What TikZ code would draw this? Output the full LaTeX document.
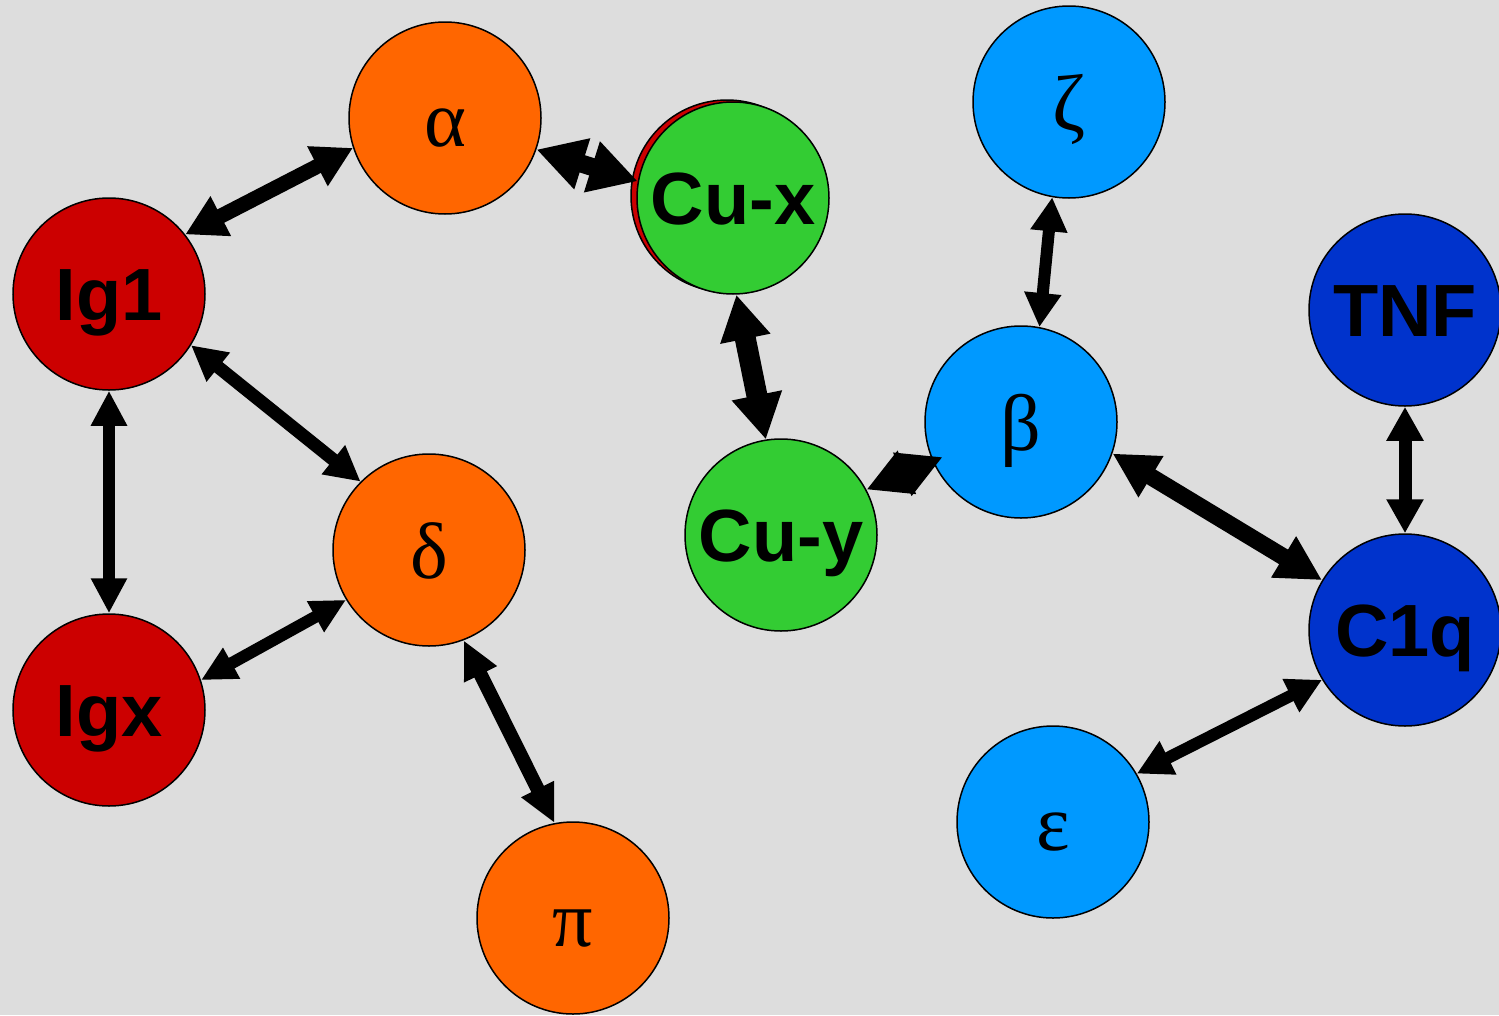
\documentclass[tikz,border=0pt]{standalone}
\usepackage{fontspec}
\setmainfont{Liberation Sans}
\newfontfamily\greekfont{Liberation Serif}
\usetikzlibrary{arrows.meta}

\definecolor{bgc}{HTML}{DDDDDD}
\definecolor{orangec}{HTML}{FF6600}
\definecolor{redc}{HTML}{CC0000}
\definecolor{greenc}{HTML}{33CC33}
\definecolor{lightbluec}{HTML}{0099FF}
\definecolor{darkbluec}{HTML}{0033CC}

\tikzset{
  ball/.style={circle, draw=black, line width=1.5pt, minimum size=192pt, inner sep=0pt, fill=#1},
  wordlbl/.style={font=\fontsize{74}{74}\selectfont\bfseries, text height=53pt, text depth=0pt},
  greeklbl/.style={font=\fontsize{80}{80}\selectfont\greekfont, text height=57pt, text depth=0pt},
  dbl/.style n args={3}{line width=#1, draw=black,
    arrows={Triangle[length=#2,width=#3]-Triangle[length=#2,width=#3]}},
}

\begin{document}
\begin{tikzpicture}[x=1pt, y=-1pt]
  % canvas
  \fill[bgc] (0,0) rectangle (1499,1015);
  \useasboundingbox (0,0) rectangle (1499,1015);
  \clip (0,0) rectangle (1499,1015);

  % red ring behind Cu-x
  \node[ball=redc] (cuxback) at (727,196) {};

  % nodes
  \node[ball=redc, wordlbl] (ig1) at (109,294) {Ig1};
  \node[ball=redc, wordlbl] (igx) at (109,710) {Igx};
  \node[ball=orangec, greeklbl] (alpha) at (445,118) {α};
  \node[ball=orangec, greeklbl] (delta) at (429,550) {δ};
  \node[ball=orangec, greeklbl] (pi) at (573,918) {π};
  \node[ball=greenc, wordlbl] (cux) at (733,198) {Cu-x};
  \node[ball=greenc, wordlbl] (cuy) at (781,535) {Cu-y};
  \node[ball=lightbluec, greeklbl] (zeta) at (1069,102) {ζ};
  \node[ball=lightbluec, greeklbl] (beta) at (1021,422) {β};
  \node[ball=lightbluec, greeklbl] (eps) at (1053,822) {ε};
  \node[ball=darkbluec, wordlbl] (tnf) at (1405,310) {TNF};
  \node[ball=darkbluec, wordlbl] (c1q) at (1405,630) {C1q};

  % connectors
  \draw[dbl={15pt}{40pt}{42pt}] (ig1.38.7) -- (alpha.198.8);
  \draw[dbl={18pt}{48pt}{50pt}] (alpha.341.2) -- (cux.170.6);
  \draw[dbl={12pt}{35pt}{34pt}] (ig1.270) -- (igx.90);
  \draw[dbl={13pt}{35pt}{35pt}] (ig1.328.8) -- (delta.135.4);
  \draw[dbl={12pt}{35pt}{33pt}] (igx.18.4) -- (delta.211.4);
  \draw[dbl={14pt}{38pt}{34pt}] (delta.291.9) -- (pi.101.2);
  \draw[dbl={21pt}{45pt}{48pt}] (cux.272.4) -- (cuy.99.7);
  \draw[dbl={16pt}{44pt}{44pt}, shorten >=-11pt] (cuy.28.4) -- (beta.204.7);
  \draw[dbl={12pt}{34pt}{35pt}] (zeta.260.6) -- (beta.79);
  \draw[dbl={17pt}{45pt}{45pt}] (beta.341) -- (c1q.149.7);
  \draw[dbl={13pt}{34pt}{35pt}] (tnf.270) -- (c1q.90);
  \draw[dbl={12pt}{35pt}{35pt}] (eps.30.9) -- (c1q.211);
\end{tikzpicture}
\end{document}
